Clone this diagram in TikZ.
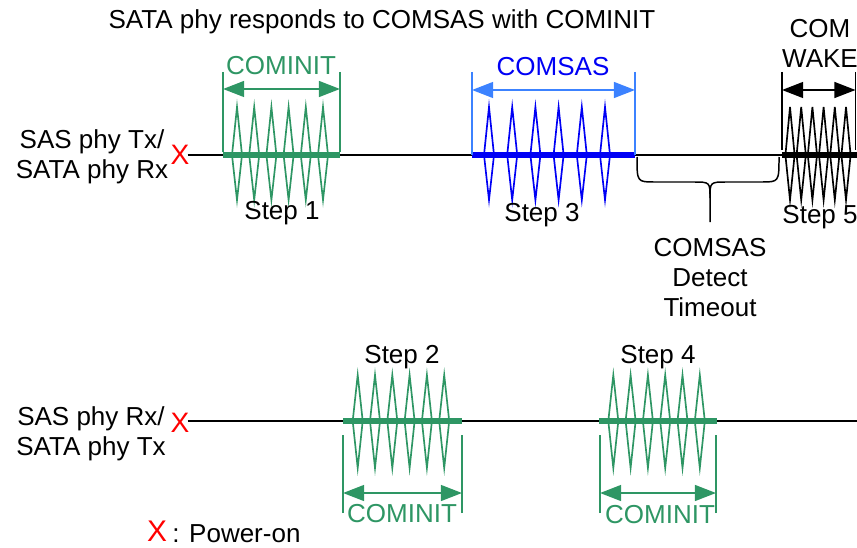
\documentclass[tikz,border=0pt]{standalone}
\usepackage{fontspec}
\setmainfont{Liberation Sans}
\usetikzlibrary{arrows.meta,calc}
\definecolor{cominitgreen}{RGB}{46,150,100}
\definecolor{comsasblue}{RGB}{0,0,245}
\definecolor{comsaslight}{RGB}{60,130,255}

\tikzset{
	lbl/.style={font=\fontsize{14.8}{17}\selectfont, inner sep=0pt, align=center},
	spike/.style={line width=0.95pt},
	span/.style={{Triangle[length=12pt,width=9pt]}-{Triangle[length=12pt,width=9pt]}, line width=1.1pt},
	fence/.style={line width=0.8pt},
	burstline/.style={line width=3pt},
	poweron/.style={text=red, inner sep=0pt, font=\fontsize{16}{16}\selectfont},
}

\begin{document}
\begin{tikzpicture}[x=0.02cm, y=-0.02cm]
		\useasboundingbox (0,0) rectangle (857,547);
		\node[lbl] (title) at (382,22) {SATA phy responds to COMSAS with COMINIT};

		% signal lines
		\node[lbl] (txlbl) at (92,157) {SAS phy Tx/\\SATA phy Rx};
		\node[lbl] (rxlbl) at (91,434) {SAS phy Rx/\\SATA phy Tx};
		\node[poweron] (xtx) at (180,155) {X};
		\node[poweron] (xrx) at (180,423) {X};
		\coordinate (txend) at (857,155);
		\coordinate (rxend) at (857,421);
		\draw[line width=0.85pt] ($(xtx.east |- txend)+(-2,0)$) -- (txend);
		\draw[line width=0.85pt] ($(xrx.east |- rxend)+(-2,0)$) -- (rxend);

		% step 1 : COMINIT
		\draw[cominitgreen, burstline] (223,155) -- (340,155);
		\foreach \x in {237,254.2,271.4,288.6,305.8,323}
			\draw[cominitgreen, spike] (\x,107) -- (\x+5,155) -- (\x,200) -- (\x-5,155) -- cycle;
		\coordinate (c1l) at (223,72); \coordinate (c1r) at (340,72);
		\draw[cominitgreen, fence] (c1l) -- ++(0,80) (c1r) -- ++(0,80);
		\draw[cominitgreen, span] ($(c1l)+(0,17)$) -- ($(c1r)+(0,17)$);
		\node[lbl, text=cominitgreen] (cominit1) at (281,66) {COMINIT};
		\node[lbl] (step1) at (282,213) {Step 1};

		% step 3 : COMSAS
		\draw[comsasblue, burstline] (472,155) -- (635,155);
		\foreach \x in {489,512.2,535.4,558.6,581.8,605}
			\draw[comsasblue, spike] (\x,107) -- (\x+5,155) -- (\x,200) -- (\x-5,155) -- cycle;
		\coordinate (c3l) at (472,72); \coordinate (c3r) at (635,72);
		\draw[comsaslight, fence] (c3l) -- ++(0,83) (c3r) -- ++(0,83);
		\draw[comsaslight, span] ($(c3l)+(0,18)$) -- ($(c3r)+(0,18)$);
		\node[lbl, text=comsasblue] (comsas) at (553,67) {COMSAS};
		\node[lbl] (step3) at (542,215) {Step 3};

		% timeout brace
		\coordinate (bl) at (637,157); \coordinate (br) at (779,157); \coordinate (btip) at (710,222);
		\draw[line width=0.85pt] (bl) .. controls (637,182) .. (655,182) -- (693,182)
			.. controls (710,182) .. (710,198) -- (btip);
		\draw[line width=0.85pt] (br) .. controls (779,182) .. (761,182) -- (727,182)
			.. controls (710,182) .. (710,198);
		\node[lbl, below=9pt] (timeout) at (btip) {COMSAS\\Detect\\Timeout};

		% step 5 : COMWAKE
		\draw[burstline] (782,155) -- (857,155);
		\foreach \x in {790,801.2,812.4,823.6,834.8,846}
			\draw[spike] (\x,107) -- (\x+4.6,155) -- (\x,200) -- (\x-4.6,155) -- cycle;
		\coordinate (c5l) at (782,72); \coordinate (c5r) at (855.5,72);
		\draw[fence] (c5l) -- ++(0,78) (c5r) -- ++(0,78);
		\draw[span] ($(c5l)+(0,18)$) -- ($(c5r)+(0,18)$);
		\node[lbl] (comwake) at (820,43) {COM\\WAKE};
		\node[lbl] (step5) at (820,217) {Step 5};

		% step 2 : COMINIT
		\draw[cominitgreen, burstline] (343,421) -- (462,421);
		\foreach \x in {357.7,375,392.3,409.6,426.9,444.2}
			\draw[cominitgreen, spike] (\x,375) -- (\x+5,421) -- (\x,468) -- (\x-5,421) -- cycle;
		\coordinate (c2l) at (343,513); \coordinate (c2r) at (462,513);
		\draw[cominitgreen, fence] (c2l) -- ++(0,-78) (c2r) -- ++(0,-78);
		\draw[cominitgreen, span] ($(c2l)+(0,-20)$) -- ($(c2r)+(0,-20)$);
		\node[lbl, text=cominitgreen] (cominit2) at (402,514) {COMINIT};
		\node[lbl] (step2) at (402,357) {Step 2};

		% step 4 : COMINIT
		\draw[cominitgreen, burstline] (599,421) -- (717,421);
		\foreach \x in {613.3,630.6,647.9,665.2,682.5,699.8}
			\draw[cominitgreen, spike] (\x,375) -- (\x+5,421) -- (\x,468) -- (\x-5,421) -- cycle;
		\coordinate (c4l) at (600,513); \coordinate (c4r) at (716,513);
		\draw[cominitgreen, fence] (c4l) -- ++(0,-78) (c4r) -- ++(0,-78);
		\draw[cominitgreen, span] ($(c4l)+(0,-20)$) -- ($(c4r)+(0,-20)$);
		\node[lbl, text=cominitgreen] (cominit4) at (660,515) {COMINIT};
		\node[lbl] (step4) at (658,357) {Step 4};

		% legend
		\node[poweron, font=\fontsize{17}{17}\selectfont] (xkey) at (157,531) {X};
		\node[lbl, anchor=west] (keytxt) at (172,534) {: Power-on};
	\end{tikzpicture}
\end{document}
